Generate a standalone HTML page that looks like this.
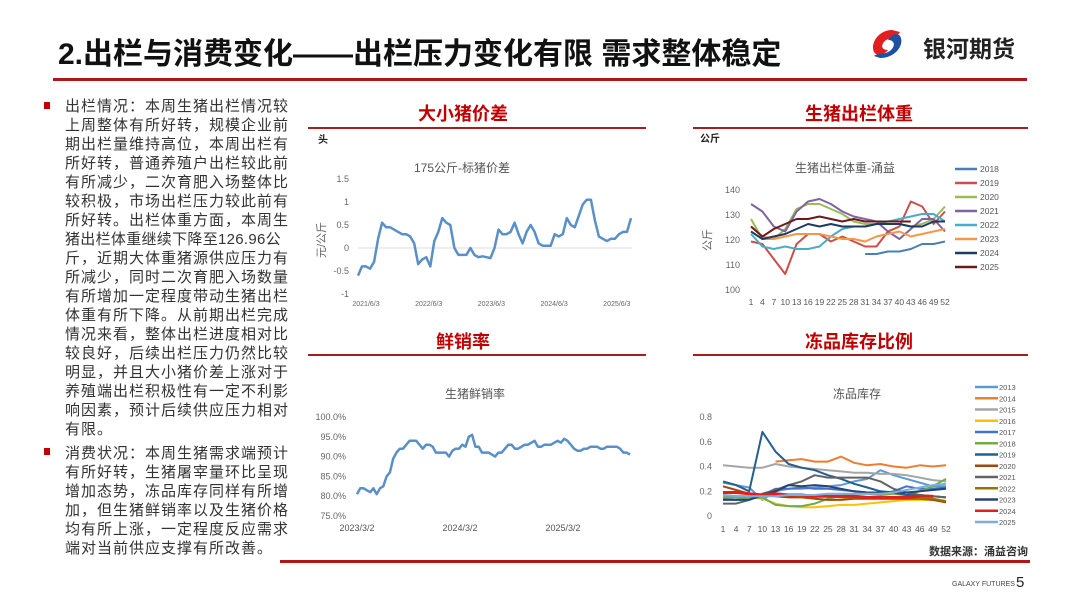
<!DOCTYPE html>
<html><head><meta charset="utf-8">
<style>
body{margin:0;width:1080px;height:608px;background:#fff;overflow:hidden;font-family:"Liberation Sans","Noto Sans CJK SC",sans-serif;position:relative}
.abs{position:absolute}
#left{left:65px;top:97px;font-size:15px;line-height:19px;color:#333;letter-spacing:1px;white-space:nowrap}
.bul{position:absolute;width:6px;height:7px;background:#c00000}
svg text{font-family:"Liberation Sans","Noto Sans CJK SC",sans-serif}
</style></head><body>
<div class="abs" style="left:58px;top:29px;font-size:30px;font-weight:bold;color:#111;font-family:'Liberation Sans','Noto Sans CJK SC',sans-serif">2.出栏与消费变化——出栏压力变化有限 需求整体稳定</div>
<div class="abs" style="left:923px;top:30px;font-size:23px;font-weight:bold;color:#222">银河期货</div>
<div class="bul" style="left:44px;top:102px"></div>
<div class="bul" style="left:44px;top:448px"></div>
<div id="left" class="abs">出栏情况：本周生猪出栏情况较<br>上周整体有所好转，规模企业前<br>期出栏量维持高位，本周出栏有<br>所好转，普通养殖户出栏较此前<br>有所减少，二次育肥入场整体比<br>较积极，市场出栏压力较此前有<br>所好转。出栏体重方面，本周生<br><span style="letter-spacing:0.3px">猪出栏体重继续下降至126.96公</span><br>斤，近期大体重猪源供应压力有<br>所减少，同时二次育肥入场数量<br>有所增加一定程度带动生猪出栏<br>体重有所下降。从前期出栏完成<br>情况来看，整体出栏进度相对比<br>较良好，后续出栏压力仍然比较<br>明显，并且大小猪价差上涨对于<br>养殖端出栏积极性有一定不利影<br>响因素，预计后续供应压力相对<br>有限。<br><div style="height:5px"></div>消费状况：本周生猪需求端预计<br>有所好转，生猪屠宰量环比呈现<br>增加态势，冻品库存同样有所增<br>加，但生猪鲜销率以及生猪价格<br>均有所上涨，一定程度反应需求<br>端对当前供应支撑有所改善。</div>
<svg id="s" class="abs" style="left:0;top:0" width="1080" height="608">
<rect x="53" y="78" width="974" height="3" fill="#b01818"/>
<g><path d="M892 30 C878 30 870 44 874 52 C877 57 884 55 888 50 C883 50 880 47 884 42 C888 37 897 38 900 32 Z" fill="#e02020"/><path d="M880 58 C896 58 905 44 900 36 C897 32 891 35 888 40 C894 40 896 45 891 50 C886 55 877 53 874 56 Z" fill="#2050a0"/></g>
<g font-size="18" font-weight="bold" fill="#c00000" text-anchor="middle">
<text x="463" y="120">大小猪价差</text>
<text x="859" y="120">生猪出栏体重</text>
<text x="463" y="348">鲜销率</text>
<text x="859" y="348">冻品库存比例</text>
</g>
<g fill="#a02020">
<rect x="308" y="127" width="338" height="2"/><rect x="693" y="127" width="335" height="2"/>
<rect x="308" y="354" width="338" height="2"/><rect x="693" y="354" width="335" height="2"/>
</g>
<rect x="280" y="560" width="750" height="3" fill="#b01818"/>
<text x="1028" y="555" font-size="11" font-weight="bold" fill="#333" text-anchor="end">数据来源：涌益咨询</text>
<text x="952" y="586" font-size="7" fill="#444">GALAXY FUTURES</text>
<text x="1016" y="587" font-size="15" fill="#222">5</text>
<g id="c1"></g>
<g id="c2"></g>
<g id="c3"></g>
<g id="c4"></g>
</svg>
<script>
const NS="http://www.w3.org/2000/svg";
// Chart 1 data
const spreadVals=[-0.6,-0.4,-0.4,-0.45,-0.3,0.2,0.55,0.45,0.45,0.4,0.35,0.3,0.3,0.25,0.1,-0.35,-0.25,-0.2,-0.4,0.15,0.35,0.65,0.55,0.5,0.0,-0.15,-0.15,-0.15,0.0,-0.15,-0.2,-0.18,-0.2,-0.22,0.0,0.4,0.3,0.3,0.35,0.55,0.3,0.1,0.35,0.5,0.35,0.1,0.05,0.05,0.05,0.3,0.25,0.3,0.65,0.5,0.45,0.7,0.95,1.05,1.05,0.6,0.25,0.2,0.15,0.2,0.2,0.3,0.35,0.35,0.65];
const spreadTicks=[1.5,1,0.5,0,-0.5,-1];
const spreadXLabels=["2021/6/3","2022/6/3","2023/6/3","2024/6/3","2025/6/3"];
// Chart 2 data
const weekCats=[1,4,7,10,13,16,19,22,25,28,31,34,37,40,43,46,49,52];
const wYears=["2018","2019","2020","2021","2022","2023","2024","2025"];
const w2018=[null,null,null,null,null,null,null,null,null,null,114,114,115,115,116,118,118,119];
const w2019=[119,118,112,106,118,122,122,119,121,119,117,117,123,125,135,133,126,131];
const w2020=[128,120,120,124,132,134,134,132,130,127,126,126,126,126,125,126,128,133];
const w2021=[134,131,125,123,131,135,136,134,131,129,128,127,123,120,124,128,128,123];
const w2022=[122,117,116,117,116,116,117,121,124,125,125,126,127,128,129,130,130,127];
const w2023=[125,121,120,121,122,122,122,121,120,120,119,121,122,123,121,122,123,124];
const w2024=[123,120,121,122,124,126,125,126,125,125,125,126,126,126,125,125,127,127];
const w2025=[125,121,124,126,128,128,129,128,127,128,127,127,127,127,127,null,null,null];
const wTicks=[140,130,120,110,100];
// Chart 3 data
const freshVals=[80.5,82,82,81.5,81,82,80.5,82,82.5,85,86,89.5,91,92,92,93,94,94,94,93,92,93,93,92.5,91,91,91,91,90,91.5,92,92,93,92.5,95,95.5,92.5,92.5,91,91,91,90.5,90,91,91,92,93,93,92,92,92.5,93,93,93.5,94,92.5,92.5,93,93,93,93.5,94,93.5,94.5,94,93,92,91.5,91.5,92,92,92.5,92.5,92.5,92,92,92.5,92.5,92.5,92.5,92,91,91,90.5];
const freshTicks=[100,95,90,85,80,75];
const freshXLabels=["2023/3/2","2024/3/2","2025/3/2"];
// Chart 4 data
const fYears=["2013","2014","2015","2016","2017","2018","2019","2020","2021","2022","2023","2024","2025"];
const f2013=[0.27,0.25,0.23,0.13,0.2,0.22,0.22,0.23,0.24,0.25,0.28,0.3,0.37,0.33,0.3,0.27,0.24,0.24];
const f2014=[null,null,null,null,0.44,0.45,0.46,0.44,0.44,0.48,0.43,0.41,0.42,0.40,0.39,0.41,0.40,0.41];
const f2015=[0.41,0.40,0.39,0.39,0.42,0.40,0.39,0.38,0.37,0.36,0.35,0.35,0.34,0.34,0.33,0.31,0.29,0.28];
const f2016=[0.15,0.16,0.15,0.14,0.10,0.08,0.07,0.07,0.08,0.09,0.09,0.10,0.11,0.12,0.13,0.13,0.13,0.12];
const f2017=[0.14,0.13,0.14,0.17,0.22,0.22,0.23,0.22,0.22,0.21,0.20,0.19,0.18,0.20,0.24,0.22,0.22,0.23];
const f2018=[0.15,0.15,0.14,0.15,0.09,0.08,0.08,0.10,0.14,0.16,0.18,0.18,0.17,0.18,0.17,0.20,0.24,0.30];
const f2019=[0.28,0.25,0.20,0.68,0.52,0.42,0.39,0.37,0.33,0.30,0.26,0.23,0.20,0.19,0.17,0.17,0.16,0.15];
const f2020=[0.24,0.21,0.18,0.17,0.16,0.15,0.15,0.14,0.13,0.13,0.14,0.14,0.14,0.14,0.14,0.14,0.13,0.11];
const f2021=[0.10,0.10,0.13,0.18,0.21,0.25,0.28,0.33,0.31,0.31,0.31,0.31,0.28,0.22,0.19,0.17,0.16,0.15];
const f2022=[0.17,0.16,0.16,0.17,0.17,0.17,0.16,0.16,0.16,0.15,0.15,0.15,0.14,0.14,0.14,0.14,0.14,0.12];
const f2023=[0.13,0.13,0.13,0.17,0.20,0.25,0.24,0.25,0.24,0.22,0.20,0.19,0.19,0.19,0.19,0.20,0.21,0.22];
const f2024=[0.19,0.19,0.18,0.17,0.18,0.17,0.17,0.16,0.16,0.16,0.16,0.15,0.15,0.15,0.15,0.16,0.16,null];
const f2025=[0.17,0.16,0.16,0.16,0.16,0.17,0.17,0.17,0.18,0.18,0.18,0.18,0.18,0.19,0.21,0.23,0.25,0.26];
const fTicks=[0.8,0.6,0.4,0.2,0];

function el(p,t,a,txt){const e=document.createElementNS(NS,t);for(const k in a)e.setAttribute(k,a[k]);if(txt!=null)e.textContent=txt;p.appendChild(e);return e;}
function lin(d0,d1,r0,r1){return v=>r0+(v-d0)/(d1-d0)*(r1-r0);}
function path(g,xs,ys,vals,color,w,name){let d="",pen=false;vals.forEach((v,i)=>{if(v==null){pen=false;return;}d+=(pen?"L":"M")+xs(i).toFixed(1)+" "+ys(v).toFixed(1);pen=true;});const p=el(g,"path",{d:d,fill:"none",stroke:color,"stroke-width":w,"stroke-linejoin":"round"});

return p;}

// Chart 1
(function(){const g=document.getElementById("c1");
el(g,"text",{x:318,y:143,"font-size":10,"font-weight":"bold",fill:"#222"},"头");
el(g,"text",{x:462,y:172,"font-size":12,fill:"#555","text-anchor":"middle"},"175公斤-标猪价差");
const y=lin(-1,1.5,294,179),x=lin(0,spreadVals.length-1,358,631);
spreadTicks.forEach(t=>{const tx=el(g,"text",{x:349,y:y(t)+3,"font-size":9,fill:"#666","text-anchor":"end"},String(t));

});
el(g,"line",{x1:358,x2:632,y1:y(0),y2:y(0),stroke:"#ddd","stroke-width":1});
el(g,"text",{transform:"translate(325,240) rotate(-90)","font-size":11,fill:"#666","text-anchor":"middle"},"元/公斤");
spreadXLabels.forEach((l,i)=>{const tx=el(g,"text",{x:366+i*62.7,y:306,"font-size":7,fill:"#666","text-anchor":"middle"},l);

});
path(g,x,y,spreadVals,"#5b8fc7",2.5,"spread-line");})();

// Chart 2
(function(){const g=document.getElementById("c2");
el(g,"text",{x:700,y:142,"font-size":10,"font-weight":"bold",fill:"#222"},"公斤");
el(g,"text",{x:845,y:172,"font-size":12,fill:"#555","text-anchor":"middle"},"生猪出栏体重-涌益");
const y=lin(100,140,289,189),x=lin(1,52,751,945);
wTicks.forEach(t=>{const tx=el(g,"text",{x:740,y:y(t)+4,"font-size":9,fill:"#666","text-anchor":"end"},String(t));

});
el(g,"text",{transform:"translate(711,240) rotate(-90)","font-size":11,fill:"#666","text-anchor":"middle"},"公斤");
weekCats.forEach(w=>{const tx=el(g,"text",{x:x(w),y:305,"font-size":8.5,fill:"#555","text-anchor":"middle"},String(w));

});
const series=[w2018,w2019,w2020,w2021,w2022,w2023,w2024,w2025];
const cols=["#4a7fb5","#c9504a","#9bbb59","#8064a2","#4bacc6","#f79646","#1f3a5f","#6b1a1a"];
const xi=i=>x(weekCats[i]);
series.forEach((s,k)=>{path(g,xi,y,s,cols[k],2,"weight-line-"+wYears[k]);
const ly=169+k*14;el(g,"line",{x1:955,x2:977,y1:ly,y2:ly,stroke:cols[k],"stroke-width":2.5});
const tx=el(g,"text",{x:980,y:ly+3,"font-size":8.5,fill:"#555"},wYears[k]);

});})();

// Chart 3
(function(){const g=document.getElementById("c3");
el(g,"text",{x:475,y:398,"font-size":12,fill:"#555","text-anchor":"middle"},"生猪鲜销率");
const y=lin(75,100,516,417),x=lin(0,freshVals.length-1,357,630);
freshTicks.forEach(t=>{const tx=el(g,"text",{x:346,y:y(t)+3,"font-size":9,fill:"#666","text-anchor":"end"},t.toFixed(1)+"%");

});
freshXLabels.forEach((l,i)=>{const tx=el(g,"text",{x:357+i*103,y:531,"font-size":9,fill:"#555","text-anchor":"middle"},l);

});
path(g,x,y,freshVals,"#5b8fc7",2.5,"fresh-rate-line");})();

// Chart 4
(function(){const g=document.getElementById("c4");
el(g,"text",{x:857,y:398,"font-size":12,fill:"#555","text-anchor":"middle"},"冻品库存");
const y=lin(0,0.8,516,417),x=lin(1,52,723,946);
fTicks.forEach(t=>{const tx=el(g,"text",{x:712,y:y(t)+3,"font-size":9,fill:"#666","text-anchor":"end"},String(t));

});
weekCats.forEach(w=>{const tx=el(g,"text",{x:x(w),y:532,"font-size":8.5,fill:"#555","text-anchor":"middle"},String(w));

});
const series=[f2013,f2014,f2015,f2016,f2017,f2018,f2019,f2020,f2021,f2022,f2023,f2024,f2025];
const cols=["#5b9bd5","#ed7d31","#a5a5a5","#ffc000","#4472c4","#70ad47","#255e91","#9e480e","#636363","#997300","#264478","#e02020","#7cafdd"];
const xi=i=>x(weekCats[i]);
series.forEach((s,k)=>{path(g,xi,y,s,cols[k],k==11?3:2,"frozen-line-"+fYears[k]);
const ly=387+k*11.25;el(g,"line",{x1:975,x2:998,y1:ly,y2:ly,stroke:cols[k],"stroke-width":2.5});
const tx=el(g,"text",{x:999,y:ly+3,"font-size":7.5,fill:"#555"},fYears[k]);

});})();
</script>
</body></html>
